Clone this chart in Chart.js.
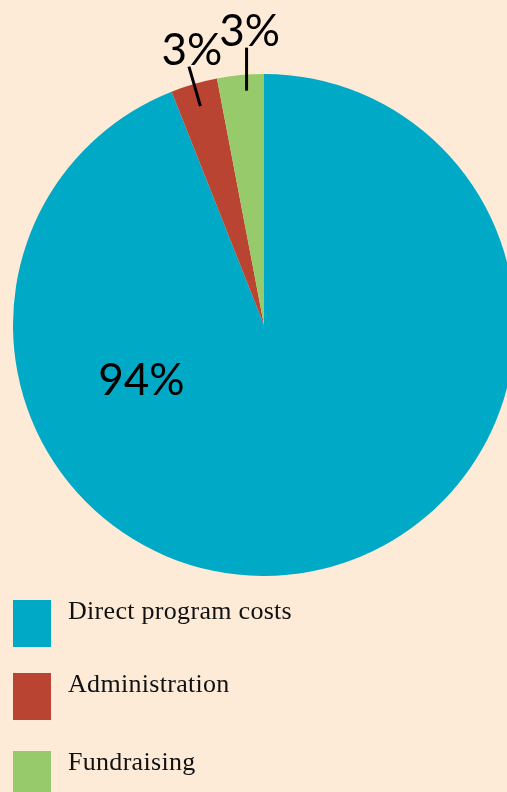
<!DOCTYPE html>
<html>
<head>
<meta charset="utf-8">
<script src="https://cdn.jsdelivr.net/npm/chart.js@4.4.0/dist/chart.umd.min.js"></script>
<style>
  html, body { margin: 0; padding: 0; background: #fdebd8; overflow: hidden; width: 507px; height: 792px; }
  #wrap { position: absolute; left: 0; top: 0; width: 530px; height: 792px; }
  #legend { position: absolute; left: 0; top: 0; }
  .item { position: absolute; left: 13px; }
  .box { position: absolute; left: 0; top: 0; width: 38px; height: 47px; }
  .lbl { position: absolute; left: 55px; white-space: nowrap; font-family: "Liberation Serif", "DejaVu Serif", serif; font-size: 26px; letter-spacing: 0.3px; color: #111; }
</style>
</head>
<body>
<div id="wrap"><canvas id="pie"></canvas></div>
<div id="legend"></div>
<script>
const categories = ['Direct program costs', 'Administration', 'Fundraising'];
const shares = [94, 3, 3];
const sliceColors = ['#00a9c5', '#b94431', '#96ca6a'];

document.addEventListener('DOMContentLoaded', function() {
    // legend built by hand: tall boxes, wide gaps
    const legend = document.getElementById('legend');
    const tops = [600, 673, 751];
    categories.forEach((name, i) => {
        const item = document.createElement('div');
        item.className = 'item';
        item.style.top = tops[i] + 'px';
        item.innerHTML = '<div class="box" style="background:' + sliceColors[i] + '"></div>' +
            '<div class="lbl" style="top:-4px">' + name + '</div>';
        legend.appendChild(item);
    });

    const pctLabels = {
        id: 'pctLabels',
        afterDatasetsDraw(chart) {
            const ctx = chart.ctx;
            const arcs = chart.getDatasetMeta(0).data;
            ctx.save();
            ctx.font = '44px Lato, "Noto Sans", sans-serif';
            ctx.fillStyle = '#000';
            ctx.strokeStyle = '#000';
            ctx.lineWidth = 3;
            arcs.forEach((arc, i) => {
                const v = shares[i];
                const cx = arc.x, cy = arc.y, r = arc.outerRadius;
                const mid = (arc.startAngle + arc.endAngle) / 2;
                ctx.textAlign = 'center';
                if (v > 50) {
                    // big slice: text sits left of centre
                    const a = Math.PI * 0.868;
                    ctx.textBaseline = 'middle';
                    ctx.fillText(v + '%', cx + Math.cos(a) * r * 0.534, cy + Math.sin(a) * r * 0.534 + 2);
                    return;
                }
                let x1, y1, x2, y2;
                if (i === arcs.length - 1) {
                    // slice next to the top: straight up tick
                    x1 = cx + Math.cos(mid + 0.02) * (r - 16);
                    y1 = cy + Math.sin(mid + 0.02) * (r - 16);
                    x2 = x1; y2 = y1 - 43;
                } else {
                    x1 = cx + Math.cos(mid) * (r - 23);
                    y1 = cy + Math.sin(mid) * (r - 23);
                    x2 = cx + Math.cos(mid) * (r + 18);
                    y2 = cy + Math.sin(mid) * (r + 18);
                }
                ctx.beginPath();
                ctx.moveTo(x1, y1);
                ctx.lineTo(x2, y2);
                ctx.stroke();
                ctx.textBaseline = 'alphabetic';
                ctx.fillText(v + '%', x2 + 3, y2 - 2);
            });
            ctx.restore();
        }
    };

    const ctx = document.getElementById('pie').getContext('2d');
    new Chart(ctx, {
        type: 'pie',
        data: {
            labels: categories,
            datasets: [{
                data: shares,
                backgroundColor: sliceColors,
                borderWidth: 0
            }]
        },
        options: {
            responsive: true,
            maintainAspectRatio: false,
            animation: false,
            layout: { padding: { left: 13, right: 15, top: 74, bottom: 216 } },
            plugins: {
                legend: { display: false },
                tooltip: { enabled: false }
            }
        },
        plugins: [pctLabels]
    });
});
</script>
</body>
</html>
